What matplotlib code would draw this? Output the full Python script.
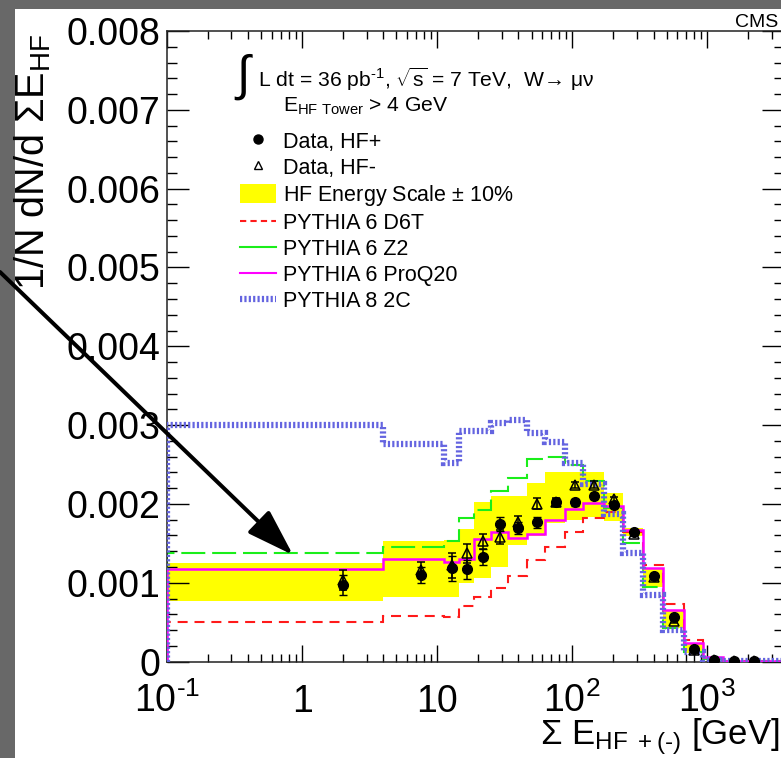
import numpy as np
import matplotlib
matplotlib.use('Agg')
import matplotlib.pyplot as plt
from matplotlib.lines import Line2D
from matplotlib.patches import Patch, Rectangle, FancyArrowPatch
from matplotlib.ticker import MultipleLocator, LogLocator, NullFormatter, FuncFormatter
from matplotlib.transforms import IdentityTransform

plt.rcParams['font.family'] = ['Liberation Sans', 'DejaVu Sans']
plt.rcParams['mathtext.fontset'] = 'custom'
plt.rcParams['mathtext.rm'] = 'Liberation Sans'
plt.rcParams['mathtext.it'] = 'Liberation Sans:italic'
plt.rcParams['mathtext.sf'] = 'Liberation Sans'

# bin edges of sum E_HF [GeV] (first bin starts at 0)
edges = np.array([0, 4, 11.3, 14.6, 18.9, 25.1, 33.7, 46.2, 63.1, 88.7, 121,
                  171, 238, 334, 474, 667, 929, 1300, 1830, 2570, 3700])

# values in units of 1e-3
data_hfp = np.array([0.973, 1.10, 1.186, 1.173, 1.326, 1.749, 1.694, 1.766, 2.03, 2.02,
                     2.105, 1.99, 1.638, 1.09, 0.563, 0.156, 0.02, 0.005, 0.003])
data_hfm = np.array([1.037, 1.16, 1.22, 1.376, 1.524, 1.58, 1.765, 2.0, 2.02, 2.244,
                     2.245, 2.06, 1.62, 1.07, 0.51, 0.15, 0.02, 0.005, 0.003])
data_err = np.array([0.13, 0.1, 0.16, 0.12, 0.1, 0.09, 0.08, 0.07, 0.05, 0.04,
                     0.04, 0.03, 0.03, 0.02, 0.02, 0.01, 0.005, 0.003, 0.003])

band_lo = np.array([0.774, 0.817, 0.825, 0.995, 1.058, 1.198, 1.482, 1.596, 1.757, 1.80,
                    1.834, 1.78, 1.59, 0.95, 0.42, 0.11, 0.02, 0.004, 0.002, 0.0])
band_hi = np.array([1.257, 1.536, 1.546, 1.68, 2.02, 2.096, 2.096, 2.265, 2.41, 2.41,
                    2.41, 2.14, 1.69, 1.19, 0.66, 0.24, 0.05, 0.012, 0.006, 0.0])

d6t = np.array([0.507, 0.58, 0.563, 0.70, 0.82, 0.93, 1.09, 1.29, 1.46, 1.65,
                1.82, 1.90, 1.65, 1.227, 0.732, 0.275, 0.05, 0.012, 0.006, 0.002])
z2 = np.array([1.384, 1.45, 1.53, 1.82, 1.92, 2.16, 2.33, 2.57, 2.60, 2.49,
               2.29, 1.95, 1.51, 0.95, 0.42, 0.126, 0.03, 0.008, 0.005, 0.002])
proq20 = np.array([1.17, 1.30, 1.26, 1.30, 1.56, 1.65, 1.57, 1.62, 1.80, 1.94,
                   2.01, 1.97, 1.67, 1.185, 0.656, 0.232, 0.062, 0.012, 0.006, 0.002])
p8_2c = np.array([3.00, 2.76, 2.52, 2.92, 2.92, 3.03, 3.07, 2.90, 2.78, 2.52,
                  2.25, 1.87, 1.38, 0.846, 0.40, 0.126, 0.02, 0.008, 0.005, 0.003])

scale = 1e-3
xmin, xmax = 0.1, 3700
HY = '\u2010'  # ROOT-style hyphen instead of a wide minus

W, H = 781, 758
fig = plt.figure(figsize=(W / 100, H / 100), dpi=100)

# grey frame left / top
fig.add_artist(Rectangle((0, 0), 15 / W, 1, transform=fig.transFigure,
                         facecolor='#686868', edgecolor='none'))
fig.add_artist(Rectangle((0, 1 - 9 / H), 1, 9 / H, transform=fig.transFigure,
                         facecolor='#686868', edgecolor='none'))

ax = fig.add_axes([167 / W, 1 - 661.6 / H, (784 - 167) / W, (661.6 - 31) / H])

draw_edges = np.maximum(edges, xmin)
centres = 0.5 * (edges[:-1] + edges[1:])[:len(data_hfp)]

ax.stairs(band_hi * scale, draw_edges, baseline=band_lo * scale, fill=True,
          color='#ffff00', lw=0, zorder=1)
ax.stairs(d6t * scale, draw_edges, color='#ff1a1a', lw=1.5, ls=(0, (4.8, 3.3)), zorder=2)
ax.stairs(z2 * scale, draw_edges, color='#1aee1a', lw=1.5, ls=(0, (11.5, 3.3)), zorder=2)
ax.stairs(proq20 * scale, draw_edges, color='#ff00ff', lw=1.8, zorder=3)
ax.stairs(p8_2c * scale, draw_edges, color='#6464e0', lw=4.5, ls=(0, (0.35, 0.35)), zorder=3)

ax.errorbar(centres, data_hfm * scale, yerr=data_err * scale, fmt='^', mfc='none',
            mec='black', ecolor='black', ms=7, mew=1.1, capsize=3, elinewidth=1.1, zorder=5)
ax.errorbar(centres, data_hfp * scale, yerr=data_err * scale, fmt='o', color='black',
            ms=7, capsize=3, elinewidth=1.1, zorder=6)

ax.set_xscale('log')
ax.set_xlim(xmin, xmax)
ax.set_ylim(0, 0.008)

ax.set_xticks([0.1, 1, 10, 100, 1000])
ax.set_xticklabels([r'$10^{' + HY + '1}$', '1', '10', r'$10^{2}$', r'$10^{3}$'])
ax.xaxis.set_minor_locator(LogLocator(base=10, subs=np.arange(2, 10)))
ax.xaxis.set_minor_formatter(NullFormatter())
ax.yaxis.set_major_locator(MultipleLocator(0.001))
ax.yaxis.set_minor_locator(MultipleLocator(0.0002))
ax.yaxis.set_major_formatter(FuncFormatter(lambda v, p: '0' if abs(v) < 1e-9 else f'{v:.3f}'))

ax.tick_params(axis='x', which='major', direction='in', length=12, width=1,
               top=True, labelsize=27, pad=36)
ax.tick_params(axis='x', which='minor', direction='in', length=6, width=1, top=True)
ax.tick_params(axis='y', which='major', direction='in', length=16, width=1,
               right=True, labelsize=27, pad=5)
ax.tick_params(axis='y', which='minor', direction='in', length=7, width=1, right=True)
for t in ax.xaxis.get_major_ticks():
    t.label1.set_va('baseline')
for s in ax.spines.values():
    s.set_linewidth(1.1)
    s.set_color('#222222')

# legend
handles = [
    Line2D([], [], ls='none', marker='o', color='black', ms=6.5),
    Line2D([], [], ls='none', marker='^', mfc='none', mec='black', ms=6, mew=1),
    Patch(facecolor='#ffff00', edgecolor='none'),
    Line2D([], [], color='#ff1a1a', lw=1.5, ls=(0, (3, 2))),
    Line2D([], [], color='#1aee1a', lw=1.5),
    Line2D([], [], color='#ff00ff', lw=1.5),
    Line2D([], [], color='#6464e0', lw=4.5, ls=(0, (0.35, 0.35))),
]
labels = ['Data, HF+', 'Data, HF-', 'HF Energy Scale $\\pm$ 10%', 'PYTHIA 6 D6T',
          'PYTHIA 6 Z2', 'PYTHIA 6 ProQ20', 'PYTHIA 8 2C']
ax.legend(handles, labels, loc='upper left', bbox_to_anchor=(240 / W, 1 - 131 / H),
          bbox_transform=fig.transFigure, frameon=False, fontsize=15.5,
          handlelength=1.65, handletextpad=0.35, labelspacing=0.2, borderpad=0,
          borderaxespad=0, handleheight=0.95)

fig.text(243 / W, 1 - 77 / H, '\u222b', ha='center', va='center', fontsize=35)
fig.text(258 / W, 1 - 87 / H,
         r'L dt = 36 pb$^{' + HY + r'1}$, $\sqrt{\mathrm{s}}$ = 7 TeV,  W→ μν',
         fontsize=15.2, va='baseline')
fig.text(283 / W, 1 - 112 / H, r'E$_{\mathrm{HF\ Tower}}$ > 4 GeV', fontsize=15.2, va='baseline')
fig.text(735 / W, 1 - 27 / H, 'CMS', fontsize=14, va='baseline')

fig.text(33 / W, 1 - 33 / H, r'1/N dN/d ΣE$_{\mathrm{HF}}$', rotation=90,
         ha='center', va='top', fontsize=28.5)
fig.text(779 / W, 1 - 744 / H, r'Σ E$_{\mathrm{HF\ +(' + HY + r')}}$ [GeV]', ha='right',
         va='baseline', fontsize=25)

fig.add_artist(FancyArrowPatch((0, H - 272), (293, H - 555), transform=IdentityTransform(),
                               arrowstyle='-|>,head_length=2.9,head_width=0.95',
                               mutation_scale=10, lw=2.9, color='black',
                               shrinkA=0, shrinkB=0, zorder=10))

fig.savefig('out.png', dpi=100)
